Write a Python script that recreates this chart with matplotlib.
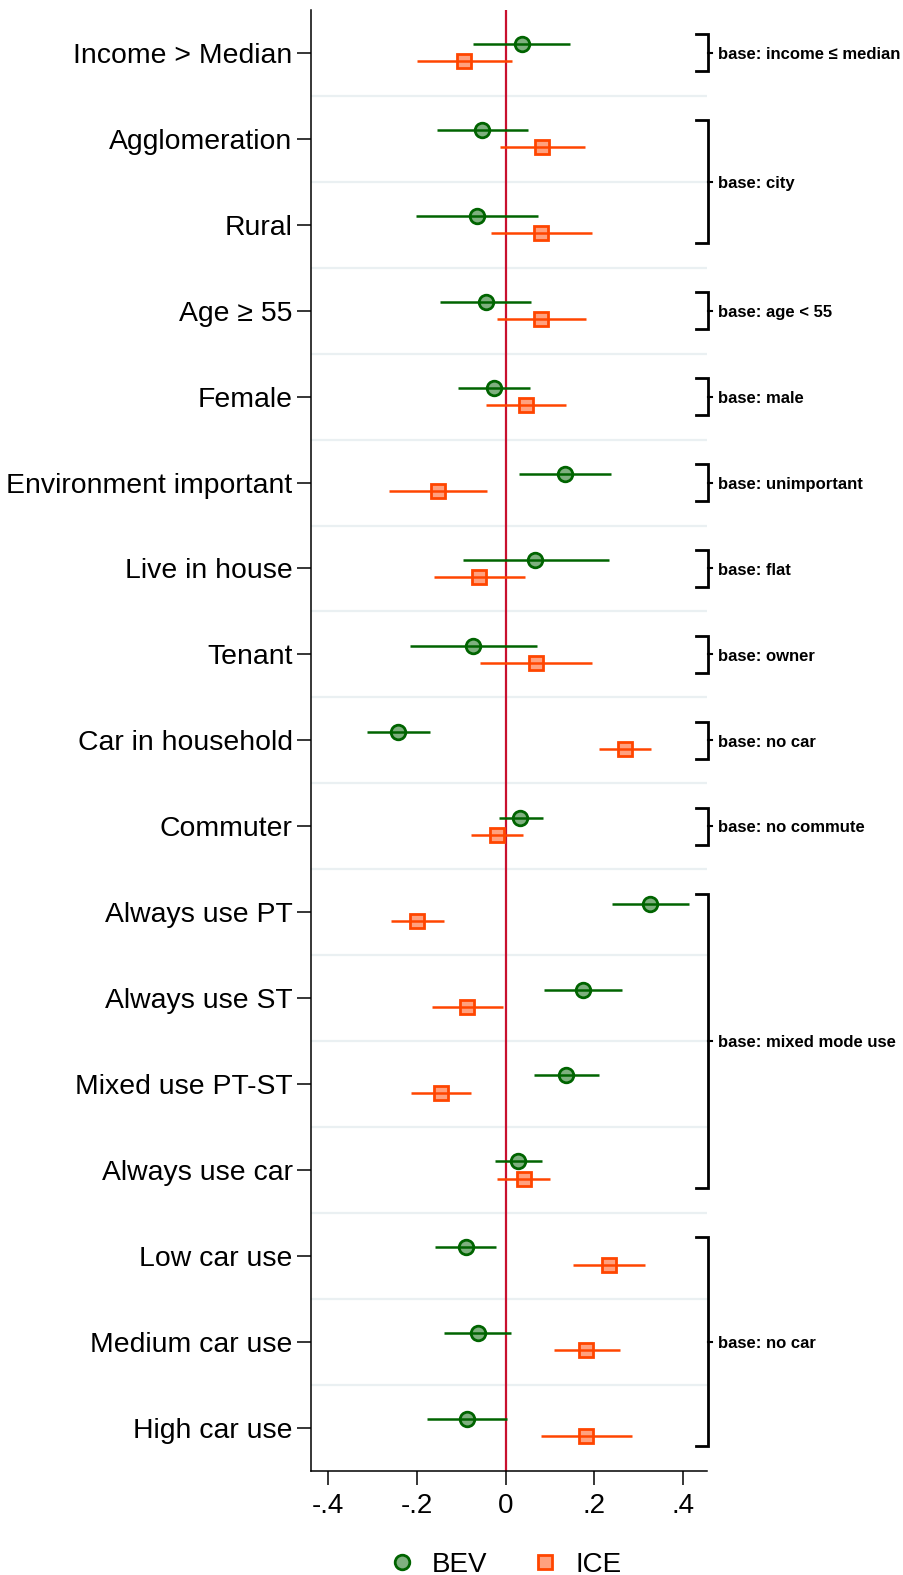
import matplotlib
matplotlib.use('Agg')
import matplotlib.pyplot as plt
from matplotlib.lines import Line2D
import matplotlib.transforms as mtransforms

plt.rcParams['font.family'] = ['Liberation Sans', 'DejaVu Sans']

# --- Datos ---
labels = ['Income > Median', 'Agglomeration', 'Rural', 'Age \u2265 55', 'Female',
          'Environment important', 'Live in house', 'Tenant', 'Car in household',
          'Commuter', 'Always use PT', 'Always use ST', 'Mixed use PT-ST',
          'Always use car', 'Low car use', 'Medium car use', 'High car use']

bev_est = [0.036, -0.053, -0.065, -0.045, -0.026, 0.134, 0.067, -0.073, -0.242,
           0.033, 0.325, 0.174, 0.136, 0.029, -0.090, -0.063, -0.087]
bev_lo = [-0.074, -0.155, -0.202, -0.148, -0.108, 0.031, -0.097, -0.215, -0.313,
          -0.016, 0.240, 0.086, 0.064, -0.024, -0.158, -0.139, -0.178]
bev_hi = [0.146, 0.051, 0.074, 0.058, 0.056, 0.238, 0.233, 0.071, -0.171,
          0.085, 0.412, 0.262, 0.210, 0.083, -0.021, 0.013, 0.003]

ice_est = [-0.093, 0.082, 0.079, 0.079, 0.046, -0.152, -0.060, 0.069, 0.268,
           -0.020, -0.200, -0.087, -0.146, 0.041, 0.232, 0.182, 0.180]
ice_lo = [-0.200, -0.013, -0.034, -0.020, -0.045, -0.262, -0.161, -0.057, 0.210,
          -0.078, -0.259, -0.166, -0.212, -0.019, 0.151, 0.108, 0.079]
ice_hi = [0.015, 0.178, 0.195, 0.180, 0.136, -0.042, 0.043, 0.195, 0.328,
          0.040, -0.139, -0.006, -0.079, 0.100, 0.314, 0.258, 0.284]

# grupos de referencia: (fila inicio, fila fin, texto)
base_groups = [(0, 0, 'base: income \u2264 median'), (1, 2, 'base: city'),
               (3, 3, 'base: age < 55'), (4, 4, 'base: male'),
               (5, 5, 'base: unimportant'), (6, 6, 'base: flat'),
               (7, 7, 'base: owner'), (8, 8, 'base: no car'),
               (9, 9, 'base: no commute'), (10, 13, 'base: mixed mode use'),
               (14, 16, 'base: no car')]

xticks = [-0.4, -0.2, 0, 0.2, 0.4]
xticklabels = ['-.4', '-.2', '0', '.2', '.4']

# --- Estilo ---
GREEN = '#006400'
ORANGE = '#ff4500'
rows = list(range(len(labels)))
off = 0.1

fig = plt.figure(figsize=(9.04, 15.75), dpi=100)
ax = fig.add_axes([0.3437, 0.0662, 0.4381, 0.9275])

for y in [r + 0.5 for r in rows[:-1]]:
    ax.axhline(y, color='#eaf0f2', lw=1.6, zorder=0)
ax.axvline(0, color='#c8102e', lw=1.6, zorder=1)

bev_y = [r - off for r in rows]
ice_y = [r + off for r in rows]
ax.hlines(bev_y, bev_lo, bev_hi, color=GREEN, lw=1.8, zorder=2)
ax.hlines(ice_y, ice_lo, ice_hi, color=ORANGE, lw=1.8, zorder=2)
ax.plot(bev_est, bev_y, 'o', ms=10.5, mfc=(0.0, 0.39, 0.0, 0.5), mec=GREEN, mew=2,
        ls='none', zorder=3)
ax.plot(ice_est, ice_y, 's', ms=10.5, mfc=(1.0, 0.27, 0.0, 0.5), mec=ORANGE, mew=2,
        ls='none', zorder=3)

ax.set_xlim(-0.439, 0.453)
ax.set_ylim(len(labels) - 0.5, -0.5)
ax.set_yticks(rows)
ax.set_yticklabels(labels, fontsize=20.4)
ax.set_xticks(xticks)
ax.set_xticklabels(xticklabels, fontsize=20)
ax.tick_params(axis='both', length=10, width=1.1)
ax.tick_params(axis='y', pad=3)
ax.tick_params(axis='x', pad=6)
for s in ['top', 'right']:
    ax.spines[s].set_visible(False)
for s in ['left', 'bottom']:
    ax.spines[s].set_linewidth(1.1)

# corchetes de la categoria base
trans = mtransforms.blended_transform_factory(ax.transAxes, ax.transData)
for start, end, txt in base_groups:
    y0, y1 = start - 0.215, end + 0.215
    ax.plot([0.973, 1.003, 1.003, 0.973], [y0, y0, y1, y1], color='black', lw=2,
            transform=trans, clip_on=False, solid_joinstyle='miter')
    ym = (start + end) / 2
    ax.plot([1.003, 1.013], [ym, ym], color='black', lw=1.5, transform=trans, clip_on=False)
    ax.text(1.028, ym + 0.02, txt, transform=trans, fontsize=12, fontweight='bold',
            va='center', ha='left')

handles = [Line2D([], [], marker='o', ls='none', ms=10.5, mfc=(0.0, 0.39, 0.0, 0.5),
                  mec=GREEN, mew=2, label='BEV'),
           Line2D([], [], marker='s', ls='none', ms=10.5, mfc=(1.0, 0.27, 0.0, 0.5),
                  mec=ORANGE, mew=2, label='ICE')]
fig.legend(handles=handles, loc='center', bbox_to_anchor=(0.558, 0.0065), ncol=2,
           frameon=False, fontsize=20, handlelength=1.0, handletextpad=0.6,
           columnspacing=1.55, borderaxespad=0)

fig.savefig('out.png', dpi=100)
